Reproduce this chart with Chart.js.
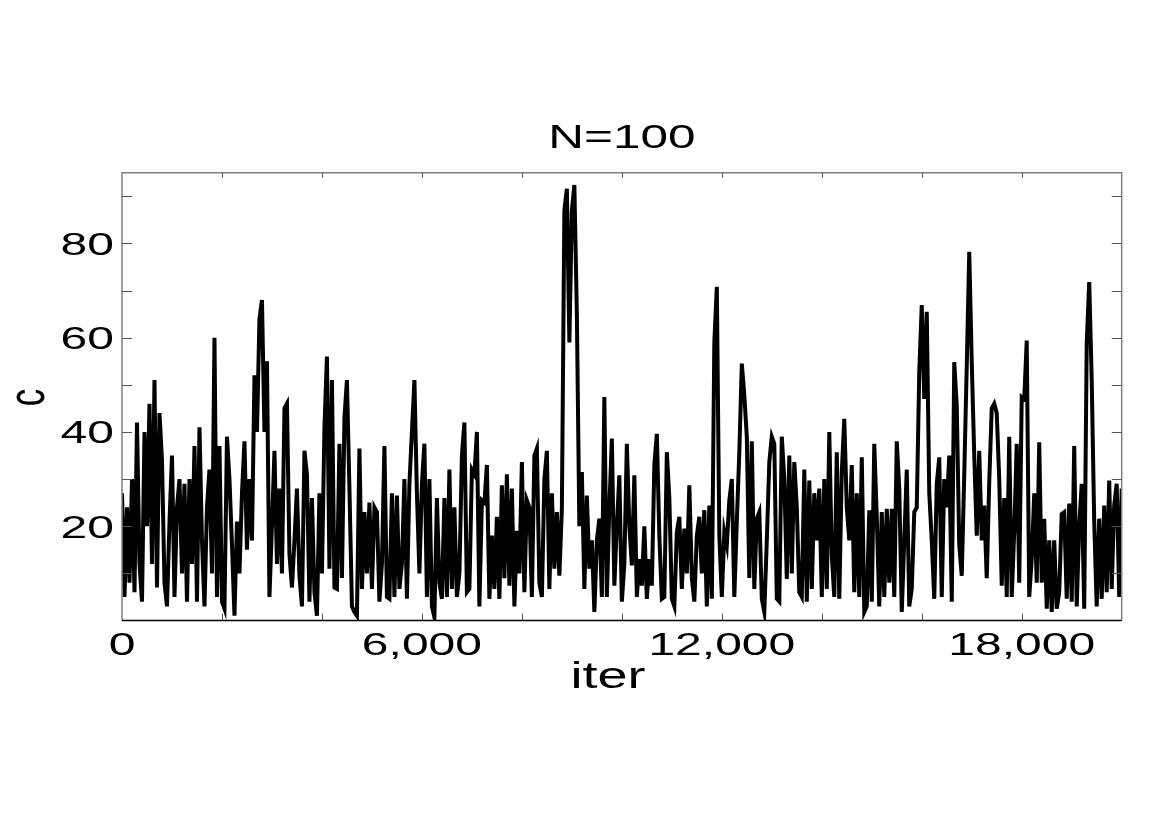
<!DOCTYPE html>
<html lang="en">
<head>
    <meta charset="UTF-8">
    <title>N=100</title>
    <script src="https://cdn.jsdelivr.net/npm/chart.js@4.4.1/dist/chart.umd.min.js"></script>
    <style>
        * {
            margin: 0;
            padding: 0;
            box-sizing: border-box;
        }

        body {
            background: #fff;
            width: 1170px;
            height: 827px;
            overflow: hidden;
        }
    </style>
</head>
<body>
    <canvas id="chart" width="1170" height="827"></canvas>

    <script>
        // one sample every 50 iterations in six stretches
        const STEP = 50;
        const part1 = [27,5,24,8,30,6,42,12,4,40, 20,46,12,51,7,44,34,8,3,21, 35,5,24,30,10,29,4,30,12,37, 4,41,17,3,24,32,10,60,5,37, 4,2.5,39,30,16,1,21,10,27,38, 15,30,17,52,40,64,68,40,55,5, 20,36,12,28,10,45,46,14];
        const part2 = [7,17,28,9.5,3,36,31,4,26,6, 1,27,10,41,56,11,51,7,6.7,37.5, 9,43,51,28,3,1.8,1,36.5,6.7,23, 10,25,6.7,24,23,4,12,37,5,4.6, 27,5,26.5,6.7,12,30,4.6,29,40,51, 27,10,29,37.5,5,30,3,0.7,26,8, 4.6,26,5,32,6.7];
        const part3 = [24,5,10,35,42,6,6.7,32,31,40, 3,25.5,25,33,4.6,18,6.7,22,4.6,28.7, 9,31,7.4,28,3,19,10,33.6,6,25.5, 24,5,35,36.5,8,5,30,36,6.7,27, 11,23,9.5,23.7,87,91.6,59,87,92.4,65, 20,31.5,6.7,26.5,11,17,1.8,17,21.6,5, 47.4,5,24,38.6,7.4,20];
        const part4 = [30.8,4,12,37.5,20,11.7,30.8,5,13,7.4, 20,4.6,13,7.4,33,39.6,18,4.6,5,35.7, 26,4.6,3,18.8,22,6.7,19.5,10,28.7,9, 4,18,22,10,23.4,3,24.4,4.6,59,70.8, 18,5,18.8,16,25.5,30,5,21,35.7,54.5, 47.8,39,9,38,6.7,21.6,23,4.6,1.8,17, 33.6,39,37.5,4.6,4,39];
        const part5 = [30,8.8,35,10,33.6,24,6,5,32,4, 29.7,6.7,27,17,28,5,30,6.7,40,13.8, 5,35.7,4.6,31.5,42.8,24,17,33,6,27, 5,34.6,1.8,3,23.4,4,37.5,22,3,23, 5,23.7,8,23.7,5,38,28,1.8,17,32, 3,6.7,23,24,52.7,66.9,47,65.5,27,17, 4.6,29,34.6,5,30,24];
        const part6 = [35,4,54.8,45.6,16,9.5,31,54,78.2,54.8, 35,18,36,17,24.4,9,29.4,45,46,44, 30,7.4,26,5,39,5,18.8,37.5,8,47.4, 47,59.4,5,13,27,8,37.8,8,21.6,2.5, 17,1.8,17,2.5,6,22.6,23,4.6,24.8,4, 37,3,20,29,2.5,58.7,71.8,51,21,3, 21.6,4.6,24.4,6,29.7,6.7,24.4,29,5,28];

        const xLabelTicks = [0, 6000, 12000, 18000];
        const yLabelTicks = [20, 40, 60, 80];
        const titleText = 'N=100';
        const xTitle = 'iter';
        const yTitle = 'c';

        const cValues = [].concat(part1, part2, part3, part4, part5, part6);
        const points = cValues.map((v, i) => ({ x: i * STEP, y: v }));

        // the reference text is stretched sideways, so draw it by hand
        const SX = 1.5;
        const FONT = '32px "Liberation Sans", Arial, sans-serif';

        function wideText(ctx, txt, x, y, align, rot) {
            ctx.save();
            ctx.translate(x, y);
            ctx.scale(SX, 1);
            if (rot) ctx.rotate(rot);
            ctx.textAlign = align;
            ctx.textBaseline = 'alphabetic';
            ctx.fillText(txt, 0, 0);
            ctx.restore();
        }

        const framePlugin = {
            id: 'frame',
            afterDraw(chart) {
                const { ctx, chartArea: a, scales: { x, y } } = chart;
                ctx.save();

                // box
                ctx.lineWidth = 1.5;
                ctx.strokeStyle = '#808080';
                ctx.beginPath();
                ctx.moveTo(a.left, a.bottom);
                ctx.lineTo(a.left, a.top);
                ctx.lineTo(a.right, a.top);
                ctx.lineTo(a.right, a.bottom);
                ctx.stroke();
                ctx.strokeStyle = '#000';
                ctx.beginPath();
                ctx.moveTo(a.left, a.bottom);
                ctx.lineTo(a.right, a.bottom);
                ctx.stroke();

                // inward ticks
                ctx.lineWidth = 1;
                ctx.strokeStyle = '#555';
                x.ticks.forEach(t => {
                    if (t.value % 2000 !== 0 || t.value <= 0 || t.value >= 20000) return;
                    const px = Math.round(x.getPixelForValue(t.value)) + 0.5;
                    ctx.beginPath();
                    ctx.moveTo(px, a.bottom); ctx.lineTo(px, a.bottom - 7);
                    ctx.moveTo(px, a.top); ctx.lineTo(px, a.top + 5);
                    ctx.stroke();
                });
                y.ticks.forEach(t => {
                    if (t.value % 10 !== 0 || t.value <= 0) return;
                    const py = Math.round(y.getPixelForValue(t.value)) + 0.5;
                    ctx.beginPath();
                    ctx.moveTo(a.left, py); ctx.lineTo(a.left + 10, py);
                    ctx.moveTo(a.right, py); ctx.lineTo(a.right - 10, py);
                    ctx.stroke();
                });

                // labels
                ctx.fillStyle = '#000';
                ctx.font = FONT;
                xLabelTicks.forEach(v => {
                    wideText(ctx, v.toLocaleString('en-US'), x.getPixelForValue(v), a.bottom + 34.5, 'center');
                });
                yLabelTicks.forEach(v => {
                    wideText(ctx, String(v), 114, y.getPixelForValue(v) + 11.5, 'right');
                });

                ctx.font = '33px "Liberation Sans", Arial, sans-serif';
                wideText(ctx, titleText, (a.left + a.right) / 2, 147.5, 'center');
                ctx.font = '36px "Liberation Sans", Arial, sans-serif';
                wideText(ctx, xTitle, 608, 688, 'center');
                ctx.font = '35px "Liberation Sans", Arial, sans-serif';
                wideText(ctx, yTitle, 44, (a.top + a.bottom) / 2 + 1, 'center', -Math.PI / 2);

                ctx.restore();
            }
        };

        new Chart(document.getElementById('chart').getContext('2d'), {
            type: 'line',
            data: {
                datasets: [{
                    data: points,
                    borderColor: '#000',
                    borderWidth: 4,
                    pointRadius: 0,
                    tension: 0,
                    fill: false
                }]
            },
            options: {
                responsive: false,
                animation: false,
                layout: {
                    padding: { top: 172.7, right: 48.3, bottom: 0, left: 0 }
                },
                plugins: {
                    legend: { display: false },
                    tooltip: { enabled: false },
                    title: { display: false }
                },
                scales: {
                    x: {
                        type: 'linear',
                        min: 0,
                        max: 20000,
                        ticks: { display: false, stepSize: 2000 },
                        grid: { display: false },
                        border: { display: false },
                        afterFit: s => { s.height = 827 - 620.5; }
                    },
                    y: {
                        min: 0,
                        max: 95,
                        ticks: { display: false, stepSize: 10 },
                        grid: { display: false },
                        border: { display: false },
                        afterFit: s => { s.width = 122; }
                    }
                }
            },
            plugins: [framePlugin]
        });
    </script>
</body>
</html>
